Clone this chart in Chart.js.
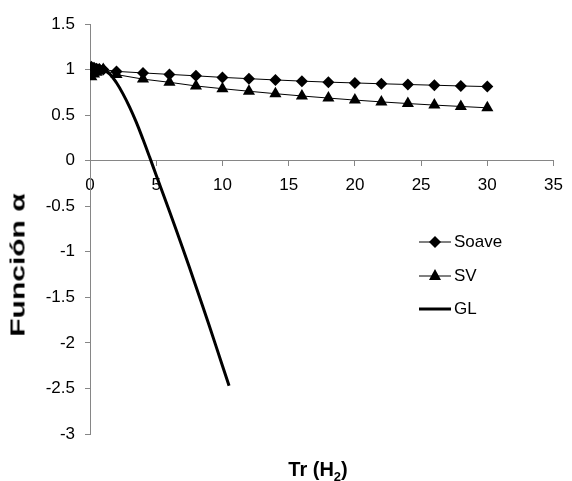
<!DOCTYPE html>
<html><head><meta charset="utf-8">
<script src="https://cdn.jsdelivr.net/npm/chart.js@4/dist/chart.umd.min.js"></script>
<style>
html,body{margin:0;padding:0;background:#fff;}
#wrap{position:relative;width:572px;height:481px;font-family:"Liberation Sans",Arial,sans-serif;color:#000;overflow:hidden;}
#c{position:absolute;left:0;top:0;}
.ytitle{position:absolute;left:18px;top:265px;transform:translate(-50%,-50%) rotate(-90deg) scaleX(1.5);font-weight:bold;font-size:20px;white-space:nowrap;}
.xtitle{position:absolute;left:318px;top:471px;transform:translate(-50%,-50%);font-weight:bold;font-size:20px;white-space:nowrap;}
.xtitle sub{font-size:13px;}
.leg{position:absolute;left:419px;height:20px;display:flex;align-items:center;font-size:17px;}
.leg svg{display:block;margin-right:3px;}
</style>
</head><body>
<div id="wrap">
<canvas id="c" width="572" height="481"></canvas>
<div class="ytitle">Función α</div>
<div class="xtitle">Tr (H<sub>2</sub>)</div>
</div>
<script>
// ---- data ----
const seriesLabels = ["Soave", "SV", "GL"];
const soaveTr    = [0.1, 0.3, 0.5, 0.7, 1, 2, 4, 6, 8, 10, 12, 14, 16, 18, 20, 22, 24, 26, 28, 30];
const soaveAlpha = [1.03, 1.02, 1.01, 1.005, 1.0, 0.98, 0.963, 0.947, 0.931, 0.914, 0.9, 0.886, 0.873, 0.862, 0.853, 0.844, 0.836, 0.828, 0.82, 0.813];
const svTr       = [0.1, 0.3, 0.5, 0.7, 1, 2, 4, 6, 8, 10, 12, 14, 16, 18, 20, 22, 24, 26, 28, 30];
const svAlpha    = [0.92, 0.95, 0.97, 0.99, 1.0, 0.945, 0.895, 0.86, 0.82, 0.79, 0.762, 0.735, 0.71, 0.687, 0.665, 0.645, 0.627, 0.61, 0.595, 0.58];
const glTr       = [0.3, 0.5, 0.75, 1, 1.5, 2, 2.5, 3, 3.5, 4, 4.5, 5, 6, 7, 8, 9, 10, 10.5];
const glAlpha    = [0.97, 0.99, 1.0, 1.0, 0.95, 0.855, 0.73, 0.585, 0.42, 0.235, 0.04, -0.16, -0.555, -0.96, -1.38, -1.81, -2.25, -2.47];
const xTickValues = [0, 5, 10, 15, 20, 25, 30, 35];
const yTickValues = [-3, -2.5, -2, -1.5, -1, -0.5, 0, 0.5, 1, 1.5];

const pts = (xs, ys) => xs.map((x, i) => ({x: x, y: ys[i]}));
const FONT = '"Liberation Sans", Arial, sans-serif';
const AXIS = '#868686';
const legendLineWidths = [1, 1, 3];

new Chart(document.getElementById('c'), {
  type: 'scatter',
  data: {
    datasets: [
      {label: seriesLabels[0], data: pts(soaveTr, soaveAlpha), showLine: true,
       borderColor: '#000', backgroundColor: '#000', borderWidth: 1,
       pointStyle: 'rectRot', pointRadius: 6, pointBorderWidth: 0, pointBackgroundColor: '#000'},
      {label: seriesLabels[1], data: pts(svTr, svAlpha), showLine: true,
       borderColor: '#000', backgroundColor: '#000', borderWidth: 1,
       pointStyle: 'triangle', pointRadius: 7, pointBorderWidth: 0, pointBackgroundColor: '#000'},
      {label: seriesLabels[2], data: pts(glTr, glAlpha), showLine: true,
       borderColor: '#000', backgroundColor: '#000', borderWidth: 3,
       pointRadius: 0, tension: 0.4}
    ]
  },
  options: {
    responsive: false, animation: false, devicePixelRatio: 1,
    layout: {padding: {left: 0, right: 12, top: 24, bottom: 47}},
    plugins: {legend: {display: false}, tooltip: {enabled: false}},
    scales: {
      x: {
        type: 'linear', position: {y: 0}, min: 0, max: 35,
        afterBuildTicks: s => { s.ticks = xTickValues.map(v => ({value: v})); },
        ticks: {font: {size: 17, family: FONT}, color: '#000', padding: 9, maxRotation: 0, callback: v => String(v)},
        grid: {drawOnChartArea: false, tickLength: 5, color: AXIS},
        border: {color: AXIS, width: 1}
      },
      y: {
        type: 'linear', position: 'left', min: -3, max: 1.5,
        afterBuildTicks: s => { s.ticks = yTickValues.map(v => ({value: v})); },
        afterFit: s => { s.width = 90; },
        ticks: {font: {size: 17, family: FONT}, color: '#000', padding: 10, callback: v => String(v)},
        grid: {drawOnChartArea: false, tickLength: 5, color: AXIS},
        border: {color: AXIS, width: 1}
      }
    }
  }
});

// HTML legend built from the series labels
const legTops = [232, 266, 299];
const wrap = document.getElementById('wrap');
seriesLabels.forEach((lab, i) => {
  const d = document.createElement('div');
  d.className = 'leg';
  d.style.top = legTops[i] + 'px';
  let marker = '';
  if (i === 0) marker = '<polygon points="16,4 22,10 16,16 10,10" fill="#000"/>';
  if (i === 1) marker = '<polygon points="16,3 22,14 10,14" fill="#000"/>';
  d.innerHTML = '<svg width="32" height="20"><line x1="0" y1="10" x2="32" y2="10" stroke="#000" stroke-width="' + legendLineWidths[i] + '"/>' + marker + '</svg><span>' + lab + '</span>';
  wrap.appendChild(d);
});
</script>
</body></html>
